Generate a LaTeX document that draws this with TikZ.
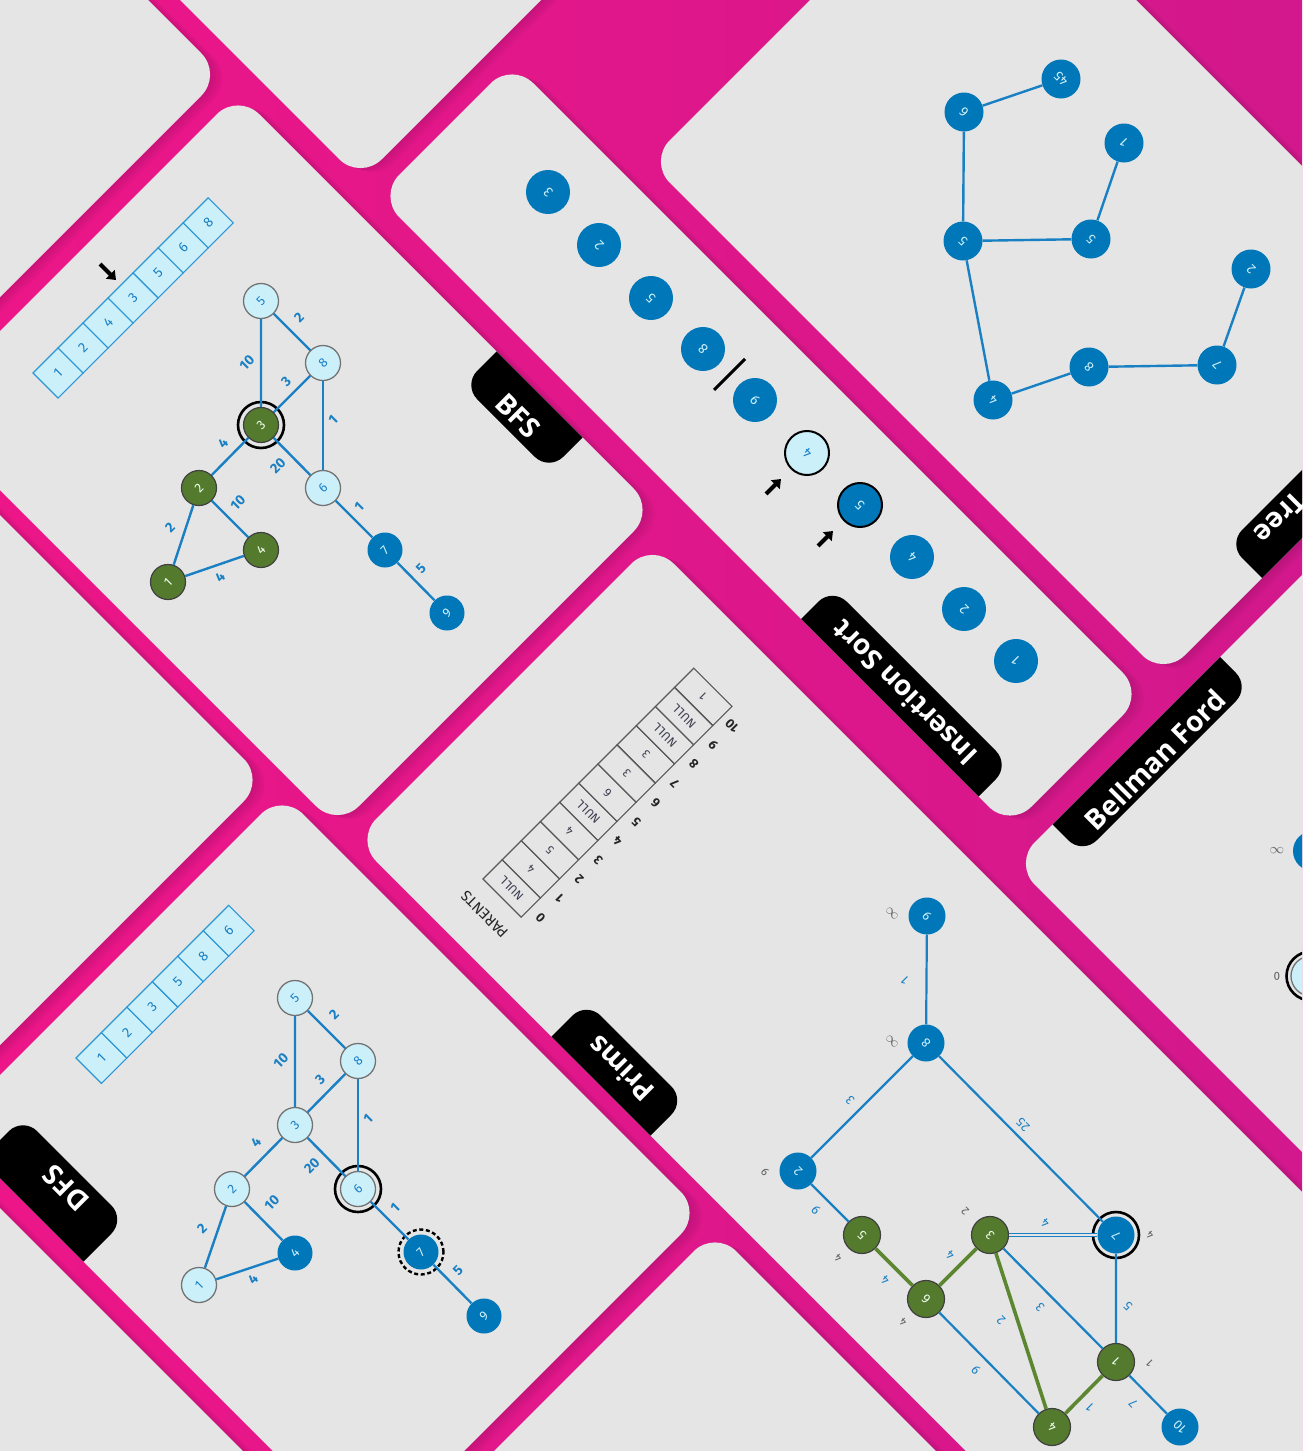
\documentclass[tikz,border=0pt]{standalone}
\usepackage{fontspec}
\setmainfont{Fira Sans}
\newfontfamily\tabfont{Open Sans}
\usetikzlibrary{arrows.meta}
\definecolor{pinkL}{RGB}{236,22,136}
\definecolor{pinkR}{RGB}{210,24,140}
\definecolor{shadowc}{RGB}{110,10,80}
\definecolor{cardc}{RGB}{229,229,229}
\definecolor{nblue}{RGB}{0,119,184}
\definecolor{eblue}{RGB}{26,128,196}
\definecolor{ncyan}{RGB}{204,240,250}
\definecolor{ngreen}{RGB}{84,122,46}
\definecolor{egreen}{RGB}{92,134,48}
\definecolor{abord}{RGB}{44,150,212}
\definecolor{keyc}{RGB}{95,95,100}
\definecolor{nullc}{RGB}{60,62,80}
\newcommand\myfs[1]{\fontsize{#1}{#1}\selectfont}
\begin{document}
\begin{tikzpicture}[x=1pt,y=-1pt,
  every node/.style={inner sep=0pt},
  blnode/.style={circle, fill=nblue, text=ncyan},
  ltnode/.style={circle, fill=ncyan, draw=black!55, line width=1.3pt, text=eblue},
  grnode/.style={circle, fill=ngreen, draw=black!75, line width=1.2pt, text=green!6},
  bedge/.style={draw=eblue, line width=2.4pt},
  gedge/.style={draw=egreen, line width=3.6pt},
  wlab/.style={text=eblue, font=\bfseries\myfs{14}},
  plab/.style={text=eblue, font=\myfs{13}, rotate=135},
  klab/.style={text=keyc, font=\myfs{11.5}, rotate=135},
  tabtext/.style={text=white, font=\tabfont\bfseries\myfs{28}},
  cellc/.style={fill=ncyan, draw=abord, line width=1.1pt},
  celltext/.style={text=eblue, font=\myfs{14}, rotate=45},
  tcell/.style={draw=black!65, line width=1.1pt},
  ttext/.style={text=nullc, font=\myfs{12}, rotate=135},
  tidx/.style={text=black!85, font=\bfseries\myfs{13}, rotate=135},
  ringc/.style={draw=black, line width=2.6pt},
  bfsn/.style={minimum size=35pt, font=\myfs{13}, rotate=45},
  insn/.style={minimum size=44pt, font=\myfs{14}, rotate=135},
  tren/.style={minimum size=39pt, font=\myfs{13.5}, rotate=135},
  prin/.style={minimum size=37pt, font=\myfs{13}, rotate=135},
  blockarrow/.style={line width=4pt, -{Triangle[length=8pt,width=12pt]}}
]
\useasboundingbox (0,0) rectangle (1302,1451);
\begin{scope}
\clip (0,0) rectangle (1302,1451);
\shade[left color=pinkL, right color=pinkR] (0,0) rectangle (1302,1451);
% ---------- cards in (p,q) coordinates, p = x+y, q = y-x ----------
\begin{scope}[x={(0.5pt,-0.5pt)}, y={(-0.5pt,-0.5pt)}]
\foreach \pa/\pb/\qa/\qb in {-1500/297/-148/490, -1500/541/-1136/-180, 574/1838/-450/-182, 810/1840/-1136/-487, 331/1165/-145/490, 1195/3500/-110/485, 1877/3500/-1136/-150, -1500/1045/515/1175, 1075/1915/511/1178, 1945/3500/515/1178, -1500/3500/1208/2600}{
  \foreach \s/\t in {3/1,6/2,9/3,12/4}
    \fill[shadowc, opacity=0.06, rounded corners=30pt, xshift=\s pt, yshift=-\t pt] (\pa,\qa) -- (\pb,\qa) -- (\pb,\qb) -- (\pa,\qb) -- cycle;
}
\foreach \pa/\pb/\qa/\qb in {-1500/297/-148/490, -1500/541/-1136/-180, 574/1838/-450/-182, 810/1840/-1136/-487, 331/1165/-145/490, 1195/3500/-110/485, 1877/3500/-1136/-150, -1500/1045/515/1175, 1075/1915/511/1178, 1945/3500/515/1178, -1500/3500/1208/2600}{
  \fill[cardc, rounded corners=30pt] (\pa,\qa) -- (\pb,\qa) -- (\pb,\qb) -- (\pa,\qb) -- cycle;
}
% tabs, clipped to their cards
\foreach \ca/\cb/\cc/\cd/\ta/\tb/\tc/\td in {331/1165/-145/490/848/1020/-200/-78, 574/1838/-450/-182/1420/1775/-245/-130, 1877/3500/-1136/-150/1820/1937/-563/-228, 1075/1915/511/1178/1140/1345/1094/1240, 1195/3500/-110/485/1588/1786/415/540, 810/1840/-1136/-487/1772/1900/-1000/-684}{
  \begin{scope}
    \clip[rounded corners=30pt] (\ca,\cc) -- (\cb,\cc) -- (\cb,\cd) -- (\ca,\cd) -- cycle;
    \fill[black, rounded corners=20pt] (\ta,\tc) -- (\tb,\tc) -- (\tb,\td) -- (\ta,\td) -- cycle;
  \end{scope}
}
\end{scope}
% ---------- tab labels ----------
\node[tabtext, rotate=-45] (tbfs) at (518,416) {BFS};
\node[tabtext, rotate=135] (tins) at (904,693) {Insertion Sort};
\node[tabtext, rotate=45] (tbf) at (1155,760) {Bellman Ford};
\node[tabtext, rotate=135] (tdfs) at (66,1188) {DFS};
\node[tabtext, rotate=135] (tpr) at (621,1069) {Prims};
\node[tabtext, rotate=225, anchor=east] (ttree) at (1259,539) {Tree};

% ---------- BFS card ----------
\begin{scope}[shift={(33,373)}, rotate=45]
  \foreach \v [count=\i from 0] in {1,2,4,3,5,6,8} {
    \draw[cellc] (35.4*\i,0) rectangle (35.4*\i+35.4,35.4);
    \node[celltext] (ba\i) at (35.4*\i+17.7,17.7) {\v};
  }
\end{scope}
\coordinate (barA) at (100,264);
\coordinate (barB) at (116,280);
\draw[blockarrow] (barA) -- (barB);
\node[ltnode,bfsn] (b5) at (261,301) {5};
\node[ltnode,bfsn] (b8) at (323,363) {8};
\node[grnode,bfsn] (b3) at (261,425) {3};
\node[ltnode,bfsn] (b6) at (323,488) {6};
\node[grnode,bfsn] (b2) at (199,488) {2};
\node[grnode,bfsn] (b4) at (261,550) {4};
\node[grnode,bfsn] (b1) at (168,582) {1};
\node[blnode,bfsn] (b7) at (385,550) {7};
\node[blnode,bfsn] (b9) at (447,613) {9};
\draw[ringc] (b3) circle (23pt);
\draw[bedge] (b5) -- (b8);
\draw[bedge] (b5) -- (b3);
\draw[bedge] (b3) -- (b8);
\draw[bedge] (b8) -- (b6);
\draw[bedge] (b3) -- (b6);
\draw[bedge] (b3) -- (b2);
\draw[bedge] (b2) -- (b1);
\draw[bedge] (b2) -- (b4);
\draw[bedge] (b1) -- (b4);
\draw[bedge] (b6) -- (b7);
\draw[bedge] (b7) -- (b9);
\node[wlab,rotate=45] (bl1) at (299,318) {2};
\node[wlab,rotate=45] (bl2) at (247,363) {10};
\node[wlab,rotate=45] (bl3) at (286,382) {3};
\node[wlab,rotate=45] (bl4) at (333,420) {1};
\node[wlab,rotate=45] (bl5) at (278,466) {20};
\node[wlab,rotate=45] (bl6) at (223,443) {4};
\node[wlab,rotate=45] (bl7) at (238,503) {10};
\node[wlab,rotate=45] (bl8) at (170,528) {2};
\node[wlab,rotate=45] (bl9) at (220,577) {4};
\node[wlab,rotate=45] (bl10) at (359,507) {1};
\node[wlab,rotate=45] (bl11) at (421,569) {5};

% ---------- DFS card ----------
\begin{scope}[shift={(76,1058)}, rotate=45]
  \foreach \v [count=\i from 0] in {1,2,3,5,8,6} {
    \draw[cellc] (36*\i,0) rectangle (36*\i+36,36);
    \node[celltext] (da\i) at (36*\i+18,18) {\v};
  }
\end{scope}
\node[ltnode,bfsn] (d5) at (295,998) {5};
\node[ltnode,bfsn] (d8) at (358,1061) {8};
\node[ltnode,bfsn] (d3) at (295,1125) {3};
\node[ltnode,bfsn] (d6) at (358,1189) {6};
\node[ltnode,bfsn] (d2) at (232,1189) {2};
\node[blnode,bfsn] (d4) at (295,1253) {4};
\node[ltnode,bfsn] (d1) at (199,1285) {1};
\node[blnode,bfsn] (d7) at (421,1252) {7};
\node[blnode,bfsn] (d9) at (484,1316) {9};
\draw[ringc] (d6) circle (23pt);
\draw[ringc, line width=2.4pt, dash pattern=on 4pt off 2.6pt] (d7) circle (22.5pt);
\draw[bedge] (d5) -- (d8);
\draw[bedge] (d5) -- (d3);
\draw[bedge] (d3) -- (d8);
\draw[bedge] (d8) -- (d6);
\draw[bedge] (d3) -- (d6);
\draw[bedge] (d3) -- (d2);
\draw[bedge] (d2) -- (d1);
\draw[bedge] (d2) -- (d4);
\draw[bedge] (d1) -- (d4);
\draw[bedge] (d6) -- (d7);
\draw[bedge] (d7) -- (d9);
\node[wlab,rotate=45] (dl1) at (334,1015) {2};
\node[wlab,rotate=45] (dl2) at (281,1061) {10};
\node[wlab,rotate=45] (dl3) at (320,1080) {3};
\node[wlab,rotate=45] (dl4) at (368,1119) {1};
\node[wlab,rotate=45] (dl5) at (312,1166) {20};
\node[wlab,rotate=45] (dl6) at (256,1142) {4};
\node[wlab,rotate=45] (dl7) at (272,1203) {10};
\node[wlab,rotate=45] (dl8) at (202,1229) {2};
\node[wlab,rotate=45] (dl9) at (253,1279) {4};
\node[wlab,rotate=45] (dl10) at (395,1208) {1};
\node[wlab,rotate=45] (dl11) at (458,1271) {5};

% ---------- Insertion Sort card ----------
\node[blnode,insn] (i1) at (548,192) {3};
\node[blnode,insn] (i2) at (599,245) {2};
\node[blnode,insn] (i3) at (651,298) {5};
\node[blnode,insn] (i4) at (703,349) {8};
\node[blnode,insn] (i5) at (755,400) {9};
\node[ltnode,insn,draw=black,line width=2pt] (i6) at (807,453) {4};
\node[blnode,insn,draw=black,line width=2pt] (i7) at (860,505) {5};
\node[blnode,insn] (i8) at (912,557) {4};
\node[blnode,insn] (i9) at (964,609) {2};
\node[blnode,insn] (i10) at (1016,661) {1};
\coordinate (sepA) at (714,390);
\coordinate (sepB) at (745,359);
\draw[black, line width=3pt] (sepA) -- (sepB);
\coordinate (iaA) at (766,494);
\coordinate (iaB) at (781,479);
\draw[blockarrow] (iaA) -- (iaB);
\coordinate (ibA) at (818,546);
\coordinate (ibB) at (833,531);
\draw[blockarrow] (ibA) -- (ibB);

% ---------- Tree card ----------
\node[blnode,tren] (t45) at (1061,79) {45};
\node[blnode,tren] (t6) at (964,112) {6};
\node[blnode,tren] (t1) at (1124,143) {1};
\node[blnode,tren] (t5a) at (963,241) {5};
\node[blnode,tren] (t5b) at (1091,239) {5};
\node[blnode,tren] (t2) at (1251,269) {2};
\node[blnode,tren] (t8) at (1089,367) {8};
\node[blnode,tren] (t7) at (1217,365) {7};
\node[blnode,tren] (t4) at (993,400) {4};
\draw[bedge] (t45) -- (t6);
\draw[bedge] (t6) -- (t5a);
\draw[bedge] (t5a) -- (t5b);
\draw[bedge] (t5b) -- (t1);
\draw[bedge] (t5a) -- (t4);
\draw[bedge] (t4) -- (t8);
\draw[bedge] (t8) -- (t7);
\draw[bedge] (t7) -- (t2);

% ---------- Bellman Ford card ----------
\node[blnode, minimum size=40pt] (bfa) at (1313,851) {};
\node[klab, rotate=45, font=\myfs{14}] (bfka) at (1277,851) {$\infty$};
\node[ltnode, minimum size=40pt] (bfb) at (1311,976) {};
\draw[ringc] (bfb) circle (24.5pt);
\node[klab, rotate=45] (bfkb) at (1277,976) {0};

% ---------- Prims card ----------
\begin{scope}[shift={(483,879)}, rotate=45]
  \foreach \v [count=\i from 0] in {NULL,4,5,4,NULL,6,3,3,NULL,NULL,1} {
    \draw[tcell] (27.1*\i,0) rectangle (27.1*\i+27.1,54);
    \node[ttext] (pt\i) at (27.1*\i+13.55,27) {\v};
    \node[tidx] (pi\i) at (27.1*\i+13.55,68) {\i};
  }
  \node[tidx, font=\myfs{15}] (ptitle) at (-24,26) {PARENTS};
\end{scope}
\node[blnode,prin] (p9) at (927,916) {9};
\node[blnode,prin] (p8) at (926,1043) {8};
\node[blnode,prin] (p2) at (798,1171) {2};
\node[grnode,prin] (p5) at (862,1235) {5};
\node[grnode,prin] (p6) at (926,1299) {6};
\node[grnode,prin] (p3) at (990,1235) {3};
\node[blnode,prin] (p7) at (1116,1235) {7};
\node[grnode,prin] (p1) at (1116,1362) {1};
\node[grnode,prin] (p4) at (1052,1427) {4};
\node[blnode,prin] (p10) at (1180,1427) {10};
\draw[ringc] (p7) circle (23pt);
\draw[bedge, line width=2.2pt] (p9) -- (p8);
\draw[bedge, line width=2.2pt] (p8) -- (p2);
\draw[bedge, line width=2.2pt] (p8) -- (p7);
\draw[bedge, line width=2.2pt] (p2) -- (p5);
\draw[gedge] (p5) -- (p6);
\draw[gedge] (p6) -- (p3);
\draw[draw=eblue, line width=1.2pt, double=cardc, double distance=1.4pt] (p3) -- (p7);
\draw[bedge, line width=2.2pt] (p3) -- (p1);
\draw[gedge] (p3) -- (p4);
\draw[bedge, line width=2.2pt] (p6) -- (p4);
\draw[bedge, line width=2.2pt] (p7) -- (p1);
\draw[gedge] (p1) -- (p4);
\draw[bedge, line width=2.2pt] (p1) -- (p10);
\node[plab] (pl1) at (905,981) {1};
\node[plab] (pl2) at (850,1100) {3};
\node[plab] (pl3) at (1023,1125) {25};
\node[plab] (pl4) at (816,1210) {9};
\node[plab] (pl5) at (885,1280) {4};
\node[plab] (pl6) at (950,1255) {4};
\node[plab] (pl7) at (1045,1223) {4};
\node[plab] (pl8) at (1040,1307) {3};
\node[plab] (pl9) at (1001,1320) {2};
\node[plab] (pl10) at (976,1370) {9};
\node[plab] (pl11) at (1128,1306) {5};
\node[plab] (pl12) at (1090,1408) {1};
\node[plab] (pl13) at (1133,1403) {7};
\node[klab, font=\myfs{14}] (pk1) at (892,914) {$\infty$};
\node[klab, font=\myfs{14}] (pk2) at (892,1042) {$\infty$};
\node[klab] (pk3) at (765,1172) {9};
\node[klab] (pk4) at (838,1258) {4};
\node[klab] (pk5) at (965,1211) {2};
\node[klab] (pk6) at (903,1322) {4};
\node[klab] (pk7) at (1150,1235) {4};
\node[klab] (pk8) at (1150,1363) {1};
\end{scope}
\end{tikzpicture}
\end{document}
